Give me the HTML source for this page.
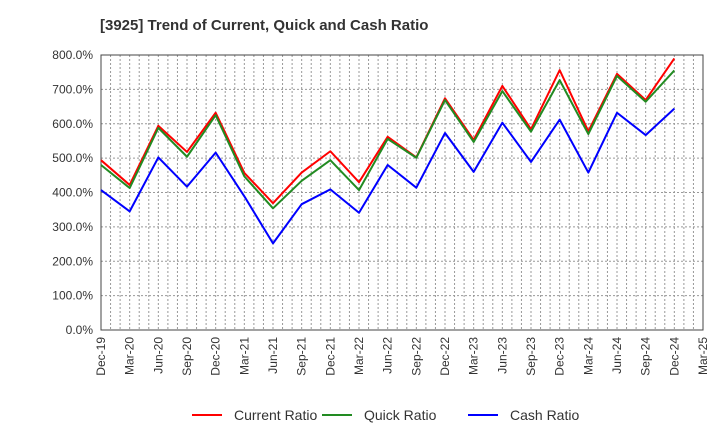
<!DOCTYPE html>
<html><head><meta charset="utf-8"><style>
body{margin:0;background:#fff;font-family:"Liberation Sans",sans-serif}
svg{display:block}
</style></head><body>
<svg id="c" width="720" height="440" xmlns="http://www.w3.org/2000/svg">
<text x="100" y="30" font-size="15" font-weight="bold" fill="#333">[3925]  Trend of Current, Quick and Cash Ratio</text>
<g id="grid"></g><g id="axes"></g><g id="series"></g>
<g>
<line x1="192" y1="415" x2="222" y2="415" stroke="#ff0000" stroke-width="2"/>
<text x="234" y="420" font-size="14" fill="#333">Current Ratio</text>
<line x1="322" y1="415" x2="352" y2="415" stroke="#228b22" stroke-width="2"/>
<text x="364" y="420" font-size="14" fill="#333">Quick Ratio</text>
<line x1="468" y1="415" x2="498" y2="415" stroke="#0000ff" stroke-width="2"/>
<text x="510" y="420" font-size="14" fill="#333">Cash Ratio</text>
</g>
</svg>
<script>
const xLabels=["Dec-19","Mar-20","Jun-20","Sep-20","Dec-20","Mar-21","Jun-21","Sep-21","Dec-21","Mar-22","Jun-22","Sep-22","Dec-22","Mar-23","Jun-23","Sep-23","Dec-23","Mar-24","Jun-24","Sep-24","Dec-24","Mar-25"];
const yTicks=[0,100,200,300,400,500,600,700,800];
const currentRatio=[494,422,594,518,632,457,369,458,520,430,562,502,674,553,710,584,756,578,745,669,790];
const quickRatio=[480,413,588,504,625,447,354,434,494,407,556,501,669,547,695,577,727,570,739,664,755];
const cashRatio=[407,345,502,417,516,389,252,366,409,341,480,414,573,460,603,489,612,458,632,567,644];
const L=101,R=703,T=55,B=330,NS="http://www.w3.org/2000/svg";
const months=63;
const xm=m=>L+(R-L)*m/months;
const xq=i=>xm(i*3);
const y=v=>B-(B-T)*v/800;
function mk(t,a,p){const e=document.createElementNS(NS,t);for(const k in a)e.setAttribute(k,a[k]);p.appendChild(e);return e;}
const g=document.getElementById('grid'),ax=document.getElementById('axes'),s=document.getElementById('series');
for(let m=1;m<months;m++){
 const l=mk('line',{x1:xm(m),x2:xm(m),y1:T,y2:B,stroke:'#999','stroke-dasharray':'2,2','stroke-width':1},g);
 
 
}
yTicks.forEach(v=>{
 const l=mk('line',{x1:L,x2:R,y1:y(v),y2:y(v),stroke:'#999','stroke-dasharray':'2,2','stroke-width':1},g);
 
 
 const t=mk('text',{x:L-8,y:y(v)+4,'text-anchor':'end','font-size':12,fill:'#333'},ax);
 t.textContent=v.toFixed(1)+'%';
 
 
});
const fr=mk('rect',{x:L,y:T,width:R-L,height:B-T,fill:'none',stroke:'#444','stroke-width':1},ax);


xLabels.forEach((lb,i)=>{
 const x=xq(i);
 const t=mk('text',{x:0,y:0,transform:`translate(${x+4},${B+7}) rotate(-90)`,'text-anchor':'end','font-size':12,fill:'#333'},ax);
 t.textContent=lb;
 
 
});
[[currentRatio,'#ff0000','current-ratio-line'],[quickRatio,'#228b22','quick-ratio-line'],[cashRatio,'#0000ff','cash-ratio-line']].forEach(([d,c,n])=>{
 const p=mk('polyline',{points:d.map((v,i)=>xq(i)+','+y(v)).join(' '),fill:'none',stroke:c,'stroke-width':2,'stroke-linejoin':'round'},s);
 
 
});
</script>
</body></html>
